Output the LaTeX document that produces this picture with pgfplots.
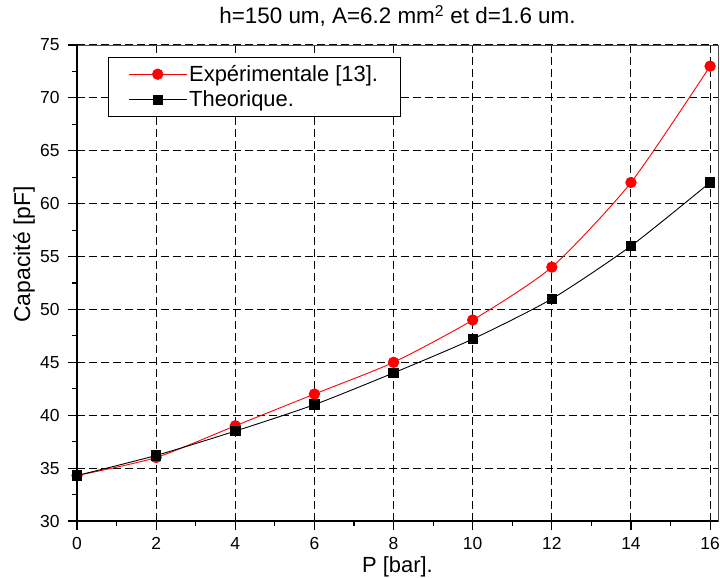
\documentclass[border=0pt]{standalone}
\usepackage{fontspec}
\setmainfont{Liberation Sans}
\usepackage{pgfplots}
\pgfplotsset{compat=1.18}
\newcommand{\legfont}{\fontsize{22}{25}\selectfont}
\begin{document}
\begin{tikzpicture}[x=1bp,y=1bp]
\useasboundingbox (-77,-57) rectangle (643,521);
\begin{axis}[
  scale only axis, width=641bp, height=476bp,
  xmin=0, xmax=16.2, ymin=30, ymax=75,
  xtick={0,2,...,16}, ytick={30,35,...,75},
  minor x tick num=1, minor y tick num=1,
  xtick pos=left, ytick pos=left,
  tick align=outside,
  major tick length=9bp, minor tick length=4.5bp,
  every tick/.style={black, line width=1.2bp},
  /pgf/number format/assume math mode=true,
  tick label style={font=\fontsize{17.5}{20}\selectfont},
  xticklabel style={yshift=-4bp},
  yticklabel style={xshift=-5bp},
  axis line style={black!70, line width=0.9bp},
  grid=major,
  major grid style={black, dash pattern=on 8bp off 4bp, line width=1bp},
  title={h=150 um, A=6.2 mm\textsuperscript{2} et d=1.6 um.},
  title style={font=\fontsize{22.5}{26}\selectfont, at={(axis description cs:0.5,1.048)}, anchor=center},
  xlabel={P [bar].},
  xlabel style={font=\fontsize{22}{26}\selectfont, at={(axis description cs:0.5,-0.096)}, anchor=center},
  ylabel={Capacité [pF]},
  ylabel style={font=\fontsize{23}{26}\selectfont, at={(axis description cs:-0.0827,0.56)}, anchor=center},
  legend style={at={(axis description cs:0.048,0.975)}, anchor=north west, draw=black, line width=1bp,
    font=\legfont, inner xsep=20bp, inner ysep=6bp, row sep=4bp,
    nodes={font=\legfont, inner sep=2bp},
    /tikz/every even column/.append style={column sep=8bp}},
  legend cell align=left,
  legend image code/.code={
    \draw[#1, mark repeat=2, mark phase=2] plot coordinates {(0bp,0bp) (29bp,0bp) (58bp,0bp)};
  },
  after end axis/.code={
    \draw[black, line width=2.2bp] (rel axis cs:0,1) -- (rel axis cs:0,0) -- (rel axis cs:1,0);
  },
]
\addplot[red, line width=0.9bp, smooth, tension=0.4, mark=*, mark size=5.2bp, mark options={fill=red, draw=red}]
  coordinates {(0,34.3) (2,36) (4,39) (6,42) (8,45) (10,49) (12,54) (14,62) (16,73)};
\addlegendentry{\legfont Expérimentale [13].}
\addplot[black, line width=0.9bp, smooth, tension=0.4, mark=square*, mark size=4.7bp, mark options={fill=black, draw=black}]
  coordinates {(0,34.3) (2,36.2) (4,38.5) (6,41) (8,44) (10,47.2) (12,51) (14,56) (16,62)};
\addlegendentry{\legfont Theorique.}
\end{axis}
\end{tikzpicture}
\end{document}
